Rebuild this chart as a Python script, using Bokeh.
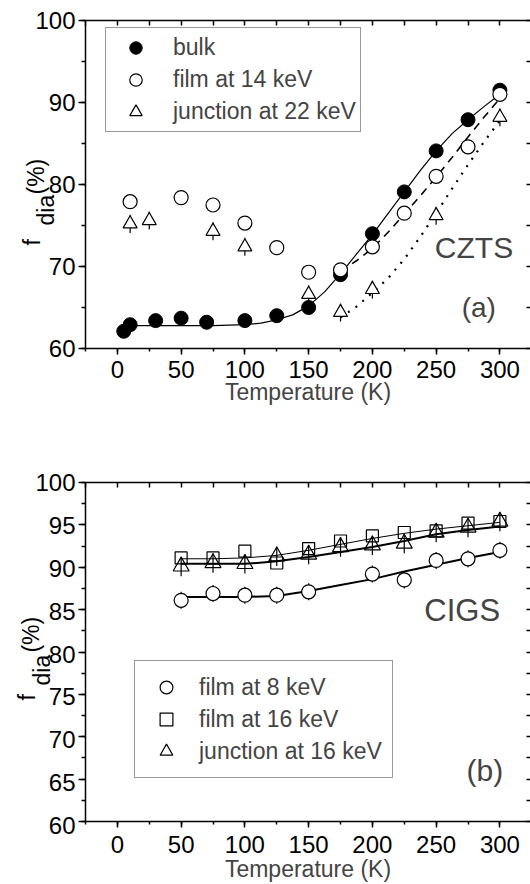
from math import pi

from bokeh.core.properties import value
from bokeh.embed import file_html
from bokeh.layouts import column, row
from bokeh.models import (ColumnDataSource, FixedTicker, Label, Legend, LegendItem,
                          LinearAxis, Range1d, SingleIntervalTicker)
from bokeh.plotting import figure
from bokeh.resources import INLINE

# ---------------- (a) CZTS ----------------
czts_bulk_T = [5, 10, 30, 50, 70, 100, 125, 150, 175, 200, 225, 250, 275, 300]
czts_bulk_f = [62.1, 62.9, 63.4, 63.7, 63.2, 63.4, 64.0, 65.0, 69.0, 74.0, 79.1, 84.1, 87.9, 91.5]

czts_film_T = [10, 50, 75, 100, 125, 150, 175, 200, 225, 250, 275, 300]
czts_film_f = [77.9, 78.4, 77.5, 75.3, 72.3, 69.3, 69.6, 72.4, 76.5, 81.0, 84.6, 91.0]

czts_junc_T = [10, 25, 75, 100, 150, 175, 200, 250, 300]
czts_junc_f = [75.2, 75.6, 74.3, 72.4, 66.6, 64.4, 67.2, 76.2, 88.2]

# model curves
czts_bulk_fit_T = [10, 25, 50, 75, 100, 112.5, 125, 137.5, 150, 162.5, 175, 187.5,
                   200, 212.5, 225, 237.5, 250, 262.5, 275, 287.5, 300]
czts_bulk_fit_f = [62.8, 62.8, 62.8, 62.8, 62.9, 63.1, 63.5, 64.1, 65.2, 66.9, 69.1, 71.5,
                   73.9, 76.5, 79.1, 81.7, 84.1, 86.2, 87.9, 89.5, 91.0]
czts_high_fit_T = [175, 187.5, 200, 212.5, 225, 237.5, 250, 262.5, 275, 287.5, 300]
czts_film_fit_f = [69.4, 70.7, 72.2, 74.2, 76.4, 78.6, 80.9, 83.3, 85.8, 88.2, 90.5]
czts_junc_fit_f = [63.8, 65.1, 66.8, 68.6, 70.9, 73.6, 76.5, 79.5, 82.4, 85.2, 87.8]

# ---------------- (b) CIGS ----------------
cigs_film8_T = [50, 75, 100, 125, 150, 200, 225, 250, 275, 300]
cigs_film8_f = [86.1, 86.9, 86.7, 86.7, 87.1, 89.2, 88.5, 90.8, 91.0, 92.0]

cigs_T = [50, 75, 100, 125, 150, 175, 200, 225, 250, 275, 300]
cigs_film16_f = [91.1, 91.1, 91.9, 90.5, 92.2, 93.1, 93.7, 94.1, 94.3, 95.2, 95.4]
cigs_junc16_f = [90.1, 90.5, 90.4, 91.3, 91.5, 92.4, 92.6, 92.8, 94.1, 94.7, 95.4]

cigs_fit_T = [50, 75, 100, 125, 150, 175, 200, 225, 250, 275, 300]
cigs_film8_fit_f = [86.5, 86.5, 86.5, 86.6, 87.2, 87.9, 88.6, 89.5, 90.3, 91.1, 91.8]
cigs_film16_fit_f = [91.0, 91.0, 91.1, 91.4, 92.0, 92.7, 93.4, 94.0, 94.5, 94.9, 95.3]
cigs_junc16_fit_f = [90.4, 90.4, 90.4, 90.7, 91.2, 91.8, 92.4, 93.1, 93.9, 94.4, 94.8]

# error-bar half widths (%)
czts_junc_err = 1.1
cigs_junc_err = 1.15
cigs_film8_err = 1.0

# y tick labels of the two panels and the y-title pieces
yticks_a = [60, 70, 80, 90, 100]
yticks_b = [60, 65, 70, 75, 80, 85, 90, 95, 100]
ylab_text = ["f", "dia", "(%)"]

FONT = "Liberation Sans"
STRIP_W = 76                 # strip holding y tick labels and the rotated y title
PLOT_W = 530 - STRIP_W
LEFT_PAD = 85 - STRIP_W      # room for the outward y ticks


def no_frame_align(fig):
    try:
        fig.frame_align = False
    except AttributeError:
        pass


def base_panel(height, border_top, border_bottom, y_step, label_standoff, title_standoff):
    p = figure(width=PLOT_W, height=height, x_range=Range1d(-25, 324), y_range=Range1d(60, 100),
               output_backend="svg", toolbar_location=None,
               min_border_left=LEFT_PAD, min_border_right=0,
               min_border_top=border_top, min_border_bottom=border_bottom,
               x_axis_label="Temperature (K)")
    no_frame_align(p)
    p.xgrid.visible = False
    p.ygrid.visible = False
    p.outline_line_color = None
    p.border_fill_color = "white"
    p.background_fill_color = "white"

    xa = p.xaxis[0]
    xa.ticker = SingleIntervalTicker(interval=50, num_minor_ticks=2)
    xa.major_tick_out, xa.major_tick_in = 6, 0
    xa.minor_tick_out, xa.minor_tick_in = 3, 0
    xa.major_label_standoff = label_standoff
    xa.axis_label_standoff = title_standoff
    xa.major_label_text_font = FONT
    xa.major_label_text_font_size = "24px"
    xa.major_label_text_color = "black"
    xa.axis_label_text_font = FONT
    xa.axis_label_text_font_size = "23px"
    xa.axis_label_text_font_style = "normal"

    ya = p.yaxis[0]
    ya.ticker = SingleIntervalTicker(interval=y_step, num_minor_ticks=2)
    ya.major_tick_out, ya.major_tick_in = 7, 0
    ya.minor_tick_out, ya.minor_tick_in = 4, 0
    ya.major_label_standoff = 0
    ya.major_label_text_font_size = "1px"
    ya.major_label_text_color = None      # labels are set in the side strip
    for ax in (xa, ya):
        ax.axis_line_width = 1.5
        ax.major_tick_line_width = 1.5
        ax.minor_tick_line_width = 1.5

    # mirrored frame sides: inward ticks only, no labels
    top = LinearAxis(ticker=FixedTicker(ticks=[], minor_ticks=list(range(-25, 325, 25))))
    right = LinearAxis(ticker=FixedTicker(ticks=[],
                                          minor_ticks=[60 + i * y_step / 2 for i in range(int(80 / y_step) + 1)]))
    for ax in (top, right):
        ax.major_tick_out, ax.minor_tick_out = 0, 0
        ax.major_tick_in, ax.minor_tick_in = 0, 5
        ax.major_label_standoff = 0
        ax.axis_line_width = 1.5
        ax.minor_tick_line_width = 1.5
    right.axis_line_color = None
    right.minor_tick_in = 4
    p.add_layout(top, "above")
    p.add_layout(right, "right")
    return p


def side_strip(height, border_top, border_bottom, ticks, title_x, title_y):
    # same vertical scale as the panel next to it, frame filling the whole strip
    ppu = (height - border_top - border_bottom) / 40.0
    s = figure(width=STRIP_W, height=height, x_range=Range1d(0, STRIP_W),
               y_range=Range1d(60 - border_bottom / ppu, 100 + border_top / ppu),
               output_backend="svg", toolbar_location=None,
               min_border_left=0, min_border_right=0, min_border_top=0, min_border_bottom=0,
               x_axis_type=None, y_axis_type=None)
    no_frame_align(s)
    s.xgrid.visible = False
    s.ygrid.visible = False
    s.outline_line_color = None
    s.background_fill_color = "white"
    s.border_fill_color = "white"
    s.text(x=[STRIP_W - 1] * len(ticks), y=ticks, text=[str(t) for t in ticks],
           text_font=value(FONT), text_font_size="24px", text_align="right",
           text_baseline="middle", text_color="black")
    s.text(x=title_x, y=title_y, text=ylab_text, angle=pi / 2,
           text_font=value(FONT), text_font_size="23px", text_align="left",
           text_baseline="alphabetic", text_color="black")
    return s


# ---------------- panel (a) ----------------
pa = base_panel(440, 20, 92, 10, 6, -2)

pa.line(czts_bulk_fit_T, czts_bulk_fit_f, line_color="black", line_width=1.2)
pa.line(czts_high_fit_T, czts_film_fit_f, line_color="black", line_width=1.6, line_dash="8 6")
pa.line(czts_high_fit_T, czts_junc_fit_f, line_color="black", line_width=2.2, line_dash="2 7")

junc_a = ColumnDataSource(dict(T=czts_junc_T, f=czts_junc_f,
                               lo=[v - czts_junc_err for v in czts_junc_f],
                               hi=[v + czts_junc_err for v in czts_junc_f]))
pa.segment(x0="T", y0="lo", x1="T", y1="hi", source=junc_a, line_color="black", line_width=1.2)

r_bulk = pa.scatter(czts_bulk_T, czts_bulk_f, marker="circle", size=14,
                    fill_color="black", line_color="black")
r_film = pa.scatter(czts_film_T, czts_film_f, marker="circle", size=14,
                    fill_color="white", line_color="black", line_width=1.2)
r_junc = pa.scatter("T", "f", source=junc_a, marker="triangle", size=14,
                    fill_color="white", line_color="black", line_width=1.2)

leg_a = Legend(items=[LegendItem(label="bulk", renderers=[r_bulk]),
                      LegendItem(label="film at 14 keV", renderers=[r_film]),
                      LegendItem(label="junction at 22 keV", renderers=[r_junc])],
               location=(20, 216), margin=0, padding=4, spacing=1,
               glyph_width=51, glyph_height=31, label_height=31, label_standoff=12,
               label_text_font=FONT, label_text_font_size="23px",
               border_line_color="#333333", border_line_width=1.2)
pa.add_layout(leg_a)

pa.add_layout(Label(x=249, y=72.3, text="CZTS", text_font=FONT, text_font_size="30px",
                    text_align="left", text_baseline="alphabetic"))
pa.add_layout(Label(x=270, y=65.0, text="(a)", text_font=FONT, text_font_size="28px",
                    text_align="left", text_baseline="alphabetic"))

sa = side_strip(440, 20, 92, yticks_a, [31.7, 45.0, 35.2], [72.56, 75.0, 78.78])

# ---------------- panel (b) ----------------
pb = base_panel(444, 42, 59, 5, 8, 0)

pb.line(cigs_fit_T, cigs_film16_fit_f, line_color="black", line_width=1.0)
pb.line(cigs_fit_T, cigs_junc16_fit_f, line_color="black", line_width=2.0)
pb.line(cigs_fit_T, cigs_film8_fit_f, line_color="black", line_width=2.0)

junc_b = ColumnDataSource(dict(T=cigs_T, f=cigs_junc16_f,
                               lo=[v - cigs_junc_err for v in cigs_junc16_f],
                               hi=[v + cigs_junc_err for v in cigs_junc16_f]))
film8_b = ColumnDataSource(dict(T=cigs_film8_T, f=cigs_film8_f,
                                lo=[v - cigs_film8_err for v in cigs_film8_f],
                                hi=[v + cigs_film8_err for v in cigs_film8_f]))
pb.segment(x0="T", y0="lo", x1="T", y1="hi", source=junc_b, line_color="black", line_width=1.2)
pb.segment(x0="T", y0="lo", x1="T", y1="hi", source=film8_b, line_color="black", line_width=1.2)

r_f8 = pb.scatter("T", "f", source=film8_b, marker="circle", size=14,
                  fill_color="white", line_color="black", line_width=1.2)
r_f16 = pb.scatter(cigs_T, cigs_film16_f, marker="square", size=12,
                   fill_alpha=0.0, line_color="black", line_width=1.2)
r_j16 = pb.scatter("T", "f", source=junc_b, marker="triangle", size=16,
                   fill_alpha=0.0, line_color="black", line_width=1.2)

leg_b = Legend(items=[LegendItem(label="film at 8 keV", renderers=[r_f8]),
                      LegendItem(label="film at 16 keV", renderers=[r_f16]),
                      LegendItem(label="junction at 16 keV", renderers=[r_j16])],
               location=(49, 43), margin=0, padding=10, spacing=0,
               glyph_width=42, glyph_height=32, label_height=32, label_standoff=12,
               label_text_font=FONT, label_text_font_size="23px",
               border_line_color="#333333", border_line_width=1.2)
pb.add_layout(leg_b)

pb.add_layout(Label(x=240.7, y=84.9, text="CIGS", text_font=FONT, text_font_size="31px",
                    text_align="left", text_baseline="alphabetic"))
pb.add_layout(Label(x=273.9, y=66.0, text="(b)", text_font=FONT, text_font_size="30px",
                    text_align="left", text_baseline="alphabetic"))

sb = side_strip(444, 42, 59, yticks_b, [26.7, 41.7, 30.0], [74.58, 76.33, 80.17])

layout = column(row(column(sa), pa, spacing=0), row(column(sb), pb, spacing=0), spacing=0)
open("out.html", "w").write(file_html(layout, INLINE))
